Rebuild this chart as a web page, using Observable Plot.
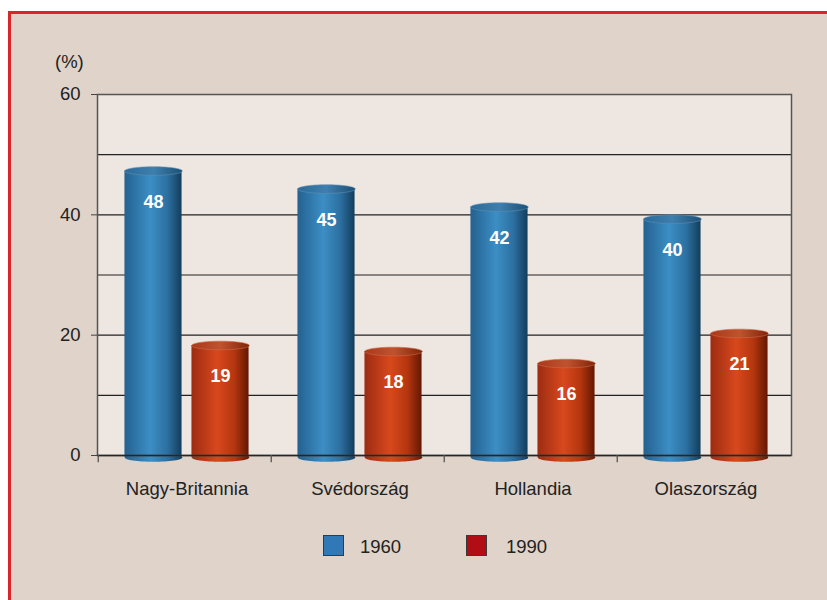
<!DOCTYPE html>
<html>
<head>
<meta charset="utf-8">
<script src="https://cdn.jsdelivr.net/npm/d3@7"></script>
<script src="https://cdn.jsdelivr.net/npm/@observablehq/plot@0.6"></script>
<style>
  html, body { margin: 0; padding: 0; background: #ffffff; }
  #page { position: relative; width: 827px; height: 600px; overflow: hidden; font-family: "Liberation Sans", Arial, Helvetica, sans-serif; }
  #box { position: absolute; left: 8px; top: 11px; width: 840px; height: 620px; background: #dfd3ca; border-left: 3px solid #d8262b; border-top: 3px solid #d8262b; box-sizing: border-box; }
  #chart { position: absolute; left: 0; top: 0; }
  #unit { position: absolute; left: 55px; top: 51px; font-size: 18.5px; color: #222; }
  .leg { position: absolute; top: 535px; width: 21px; height: 21px; box-sizing: border-box; border: 1px solid #3a3a3a; }
  .legt { position: absolute; top: 536px; font-size: 18.5px; color: #222; line-height: 21px; }
</style>
</head>
<body>
<svg width="0" height="0" style="position:absolute">
  <defs>
    <linearGradient id="g1960" x1="0" x2="1" y1="0" y2="0">
      <stop offset="0" stop-color="#24618f"/>
      <stop offset="0.45" stop-color="#3c8ec5"/>
      <stop offset="0.75" stop-color="#2c70a1"/>
      <stop offset="1" stop-color="#123d5c"/>
    </linearGradient>
    <linearGradient id="g1990" x1="0" x2="1" y1="0" y2="0">
      <stop offset="0" stop-color="#9c2c12"/>
      <stop offset="0.45" stop-color="#d8481d"/>
      <stop offset="0.75" stop-color="#b5360f"/>
      <stop offset="1" stop-color="#641703"/>
    </linearGradient>
    <linearGradient id="t1960" x1="0" x2="1" y1="0" y2="0">
      <stop offset="0" stop-color="#2b6a98"/>
      <stop offset="0.5" stop-color="#3e7fae"/>
      <stop offset="1" stop-color="#1d4f74"/>
    </linearGradient>
    <linearGradient id="t1990" x1="0" x2="1" y1="0" y2="0">
      <stop offset="0" stop-color="#a8391b"/>
      <stop offset="0.5" stop-color="#c0532f"/>
      <stop offset="1" stop-color="#7f2508"/>
    </linearGradient>
  </defs>
</svg>
<div id="page">
  <div id="box"></div>
  <div id="chart"></div>
  <div id="unit">(%)</div>
  <div class="leg" style="left:323px;background:#3179b6"></div>
  <div class="legt" style="left:360px">1960</div>
  <div class="leg" style="left:466px;background:#b00d14"></div>
  <div class="legt" style="left:506px">1990</div>
</div>
<script>
const countries = ["Nagy-Britannia", "Svédország", "Hollandia", "Olaszország"];
const years = ["1960", "1990"];
const values1960 = [48, 45, 42, 40];
const values1990 = [19, 18, 16, 21];
const yTicks = [0, 20, 40, 60];
const yGrid = [10, 20, 30, 40, 50];

const rows = countries.flatMap((c, i) => [
  {country: c, year: years[0], value: values1960[i]},
  {country: c, year: years[1], value: values1990[i]}
]);
const d60 = rows.filter(d => d.year === years[0]);
const d90 = rows.filter(d => d.year === years[1]);

const RX = 28.8, RY = 4.3;
// ellipse symbol for cylinder caps
const ellipse = {
  draw(c) {
    const rx = RX, ry = RY, kx = rx * 0.5523, ky = ry * 0.5523;
    c.moveTo(-rx, 0);
    c.bezierCurveTo(-rx, -ky, -kx, -ry, 0, -ry);
    c.bezierCurveTo(kx, -ry, rx, -ky, rx, 0);
    c.bezierCurveTo(rx, ky, kx, ry, 0, ry);
    c.bezierCurveTo(-kx, ry, -rx, ky, -rx, 0);
    c.closePath();
  }
};

const W = 827, H = 520;
const mL = 97, mR = 36, mT = 94, mB = 65;
const band = (W - mL - mR) / countries.length;
const off60 = -31.5, off90 = 35.5;

const chart = Plot.plot({
  width: W,
  height: H,
  marginLeft: mL,
  marginRight: mR,
  marginTop: mT,
  marginBottom: mB,
  style: {background: "transparent", fontFamily: "Liberation Sans, Arial, sans-serif", fontSize: "18.5px", color: "#222"},
  x: {domain: countries, padding: 0, label: null},
  y: {domain: [0, 60], label: null},
  marks: [
    Plot.frame({fill: "#ede6e1", stroke: null}),
    Plot.ruleY(yGrid, {stroke: "#222", strokeWidth: 1.1}),
    // bottom caps
    Plot.dot(d60, {x: "country", y: 0, dx: off60, dy: 2, symbol: ellipse, fill: "url(#g1960)", stroke: null}),
    Plot.dot(d90, {x: "country", y: 0, dx: off90, dy: 2, symbol: ellipse, fill: "url(#g1990)", stroke: null}),
    // cylinder bodies
    Plot.barY(d60, {x: "country", y: "value", fill: "url(#g1960)", insetTop: RY, insetBottom: -2, insetLeft: band / 2 + off60 - RX, insetRight: band / 2 - off60 - RX}),
    Plot.barY(d90, {x: "country", y: "value", fill: "url(#g1990)", insetTop: RY, insetBottom: -2, insetLeft: band / 2 + off90 - RX, insetRight: band / 2 - off90 - RX}),
    // top caps
    Plot.dot(d60, {x: "country", y: "value", dx: off60, dy: RY, symbol: ellipse, fill: "url(#t1960)", stroke: "#5f8fb3", strokeWidth: 0.6}),
    Plot.dot(d90, {x: "country", y: "value", dx: off90, dy: RY, symbol: ellipse, fill: "url(#t1990)", stroke: "#cf6a48", strokeWidth: 0.6}),
    // value labels
    Plot.text(d60, {x: "country", y: "value", dx: off60, dy: 35.5, text: d => String(d.value), fill: "white", fontWeight: "bold", fontSize: 18}),
    Plot.text(d90, {x: "country", y: "value", dx: off90, dy: 35.5, text: d => String(d.value), fill: "white", fontWeight: "bold", fontSize: 18}),
    // plot border
    Plot.frame({stroke: "#555", strokeWidth: 1.5}),
    Plot.ruleY([0], {stroke: "#262626", strokeWidth: 1.3}),
    Plot.ruleX(countries, {x: d => d, dx: -band / 2, y1: 0, y2: -1.2, stroke: "#555", strokeWidth: 1.3}),
    Plot.axisY(yTicks, {tickSize: 6, tickPadding: 11, fontSize: 18.5, stroke: "#444", label: null, tickFormat: d => String(d)}),
    Plot.axisX({tickSize: 0, tickPadding: 26, fontSize: 18.5, label: null, dx: 2})
  ]
});
document.getElementById("chart").appendChild(chart);
</script>
</body>
</html>
